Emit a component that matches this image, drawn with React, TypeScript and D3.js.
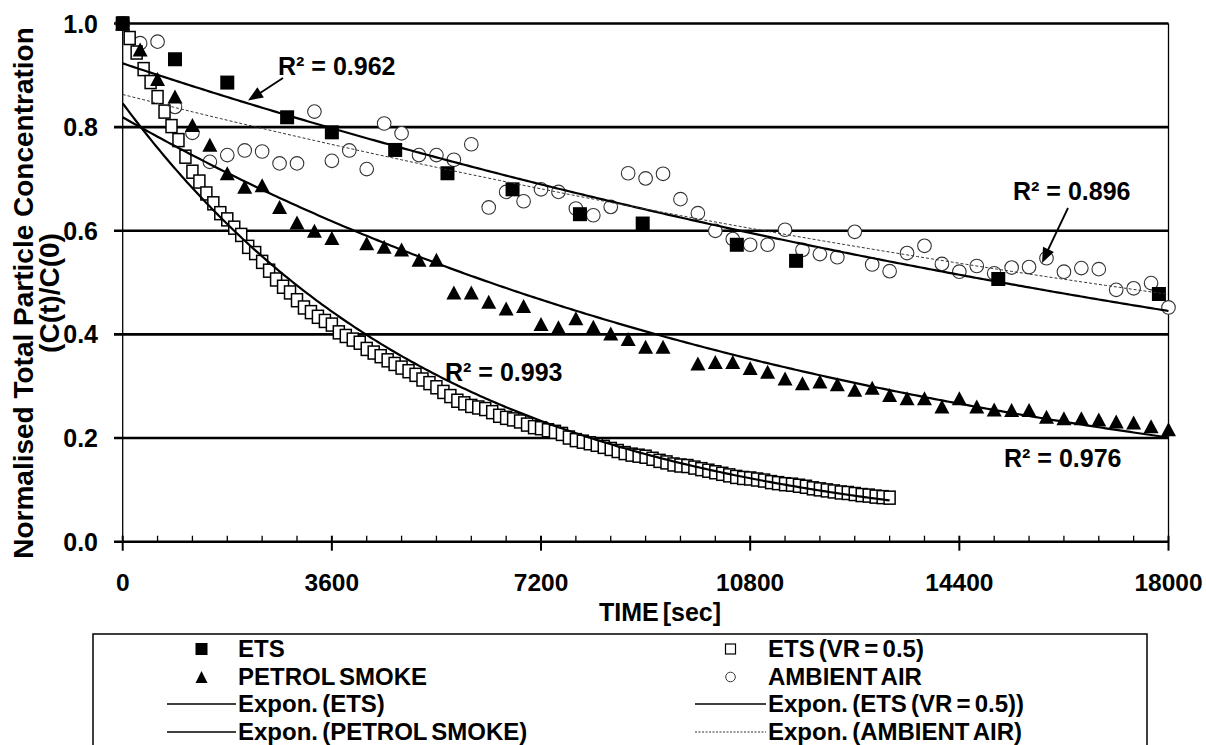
import React from 'react';
import * as d3 from 'd3';

// ---- data ----
const etsTime = [0, 900, 1800, 2830, 3600, 4690, 5590, 6710, 7870, 8950, 10570, 11590, 15070, 17835];
const etsValue = [1.0, 0.931, 0.886, 0.819, 0.79, 0.756, 0.711, 0.68, 0.632, 0.614, 0.573, 0.542, 0.507, 0.478];

// ETS (VR = 0.5) sampled every 120 s
const vrInterval = 120;
const vrValue = [
  1.0, 0.972, 0.944, 0.912, 0.887, 0.858, 0.83, 0.802, 0.775, 0.743,
  0.714, 0.695, 0.672, 0.653, 0.634, 0.622, 0.606, 0.592, 0.569, 0.557,
  0.54, 0.523, 0.506, 0.492, 0.481, 0.466, 0.452, 0.443, 0.434, 0.426,
  0.419, 0.404, 0.397, 0.39, 0.384, 0.372, 0.365, 0.358, 0.35, 0.343,
  0.336, 0.329, 0.322, 0.313, 0.306, 0.298, 0.289, 0.281, 0.272, 0.267,
  0.262, 0.259, 0.256, 0.25, 0.243, 0.239, 0.236, 0.232, 0.226, 0.221,
  0.219, 0.215, 0.212, 0.208, 0.201, 0.196, 0.193, 0.19, 0.187, 0.183,
  0.179, 0.175, 0.171, 0.168, 0.166, 0.164, 0.16, 0.156, 0.153, 0.149,
  0.147, 0.146, 0.143, 0.14, 0.137, 0.134, 0.131, 0.128, 0.125, 0.123,
  0.122, 0.12, 0.118, 0.115, 0.113, 0.111, 0.11, 0.108, 0.106, 0.103,
  0.101, 0.099, 0.097, 0.095, 0.094, 0.092, 0.09, 0.089, 0.087, 0.086,
  0.085,
];

const petrolTime = [
  0, 300, 600, 900, 1200, 1500, 1800, 2100, 2400, 2700, 3000, 3300, 3600,
  4200, 4500, 4800, 5100, 5400, 5700, 6000, 6300, 6600, 6900, 7200, 7500,
  7800, 8100, 8400, 8700, 9000, 9300, 9900, 10200, 10500, 10800, 11100,
  11400, 11700, 12000, 12300, 12600, 12900, 13200, 13500, 13800, 14100,
  14400, 14700, 15000, 15300, 15600, 15900, 16200, 16500, 16800, 17100,
  17400, 17700, 18000,
];
const petrolValue = [
  1.0, 0.95, 0.893, 0.859, 0.804, 0.766, 0.711, 0.685, 0.688, 0.646, 0.616, 0.6, 0.586,
  0.576, 0.569, 0.564, 0.544, 0.544, 0.481, 0.481, 0.463, 0.45, 0.455, 0.42, 0.414,
  0.431, 0.415, 0.402, 0.391, 0.376, 0.376, 0.344, 0.347, 0.347, 0.335, 0.328,
  0.315, 0.306, 0.309, 0.304, 0.293, 0.297, 0.283, 0.277, 0.277, 0.261,
  0.277, 0.261, 0.255, 0.254, 0.254, 0.241, 0.238, 0.238, 0.236, 0.232,
  0.23, 0.223, 0.217,
];

// ambient air sampled every 300 s
const ambientInterval = 300;
const ambientValue = [
  1.0, 0.962, 0.965, 0.839, 0.789, 0.733, 0.746, 0.755, 0.753, 0.73,
  0.73, 0.83, 0.735, 0.755, 0.719, 0.807, 0.788, 0.746, 0.746, 0.737,
  0.767, 0.645, 0.675, 0.657, 0.68, 0.675, 0.643, 0.63, 0.646, 0.711,
  0.701, 0.71, 0.661, 0.634, 0.6, 0.584, 0.573, 0.573, 0.602, 0.563,
  0.555, 0.549, 0.598, 0.535, 0.522, 0.557, 0.571, 0.536, 0.521, 0.532,
  0.518, 0.529, 0.53, 0.547, 0.521, 0.528, 0.526, 0.486, 0.489, 0.499,
  0.452,
];

// exponential trendlines y = a * exp(b * t)
const fitNames = ['ETS', 'ETS (VR = 0.5)', 'PETROL SMOKE', 'AMBIENT AIR'];
const fitA = [0.923, 0.846, 0.819, 0.863];
const fitB = [-4.05e-5, -1.79e-4, -7.8e-5, -3.29e-5];
const fitEnd = [18000, 13200, 18000, 18000];
const fitR2 = ['0.962', '0.993', '0.976', '0.896'];

const xTicks = [0, 3600, 7200, 10800, 14400, 18000];
const yTicks = [0, 0.2, 0.4, 0.6, 0.8, 1.0];

const FONT = '"Liberation Sans", Arial, Helvetica, sans-serif';

export default function App() {
  const W = 1206;
  const H = 745;
  const x = d3.scaleLinear().domain([0, 18000]).range([122.7, 1168.5]);
  const y = d3.scaleLinear().domain([0, 1]).range([541.7, 23.5]);
  const x0 = x(0);
  const x1 = x(18000);
  const y0 = y(0);

  const minorTicks = d3.range(600, 18000, 600).filter((t) => t % 3600 !== 0);

  const fitPath = (i: number) => {
    const ts = d3.range(0, fitEnd[i] + 1, fitEnd[i] / 300);
    return d3
      .line<number>()
      .x((t) => x(t))
      .y((t) => y(fitA[i] * Math.exp(fitB[i] * t)))(ts) as string;
  };

  const tri = (cx: number, cy: number, w: number, h: number) =>
    `M${cx},${cy - h / 2}L${cx + w / 2},${cy + h / 2}L${cx - w / 2},${cy + h / 2}Z`;

  const arrowHead = (fx: number, fy: number, tx: number, ty: number, len: number, half: number) => {
    const ang = Math.atan2(ty - fy, tx - fx);
    const bx = tx - len * Math.cos(ang);
    const by = ty - len * Math.sin(ang);
    const px = -Math.sin(ang) * half;
    const py = Math.cos(ang) * half;
    return `M${tx},${ty}L${bx + px},${by + py}L${bx - px},${by - py}Z`;
  };

  // legend layout: each column has a symbol sample followed by its label
  const legendTop = 634;
  const rows = [649, 677, 704, 732];
  const cols = [
    { lineA: 167, lineB: 236, text: 238 },
    { lineA: 695, lineB: 766, text: 768 },
  ];
  const mid = (c: { lineA: number; lineB: number }) => (c.lineA + c.lineB) / 2;
  const L = cols[0];
  const R = cols[1];

  return (
    <svg
      width={W}
      height={H}
      style={{ position: 'absolute', left: 0, top: 0, background: '#fff' }}
      fontFamily={FONT}
      fontWeight="bold"
    >
      <rect x={0} y={0} width={W} height={H} fill="#fff" />

      {/* horizontal gridlines and y ticks */}
      {yTicks.map((v) => (
        <line key={v} x1={114} x2={x1} y1={y(v)} y2={y(v)} stroke="#000" strokeWidth={2.6} />
      ))}
      {/* y axis and right border */}
      <line x1={x0} x2={x0} y1={y(1)} y2={y0} stroke="#000" strokeWidth={1.3} />
      <line x1={x1} x2={x1} y1={y(1)} y2={y0} stroke="#000" strokeWidth={1.3} />

      {/* x ticks */}
      {minorTicks.map((t) => (
        <line key={t} x1={x(t)} x2={x(t)} y1={y0 - 6} y2={y0} stroke="#000" strokeWidth={1.3} />
      ))}
      {xTicks.map((t) => (
        <line key={t} x1={x(t)} x2={x(t)} y1={y0 - 6} y2={y0 + 9} stroke="#000" strokeWidth={2} />
      ))}

      {/* tick labels */}
      {yTicks.map((v) => (
        <text key={v} x={98} y={y(v) + 9} textAnchor="end" fontSize={25}>
          {v.toFixed(1)}
        </text>
      ))}
      {xTicks.map((t) => (
        <text key={t} x={x(t)} y={591} textAnchor="middle" fontSize={24.5}>
          {t}
        </text>
      ))}

      {/* axis titles */}
      <text x={660} y={621} textAnchor="middle" fontSize={25} wordSpacing={-3}>
        TIME [sec]
      </text>
      <text transform="translate(33,293) rotate(-90)" textAnchor="middle" fontSize={28}>
        Normalised Total Particle Concentration
      </text>
      <text transform="translate(59,293) rotate(-90)" textAnchor="middle" fontSize={28}>
        (C(t)/C(0)
      </text>

      {/* markers */}
      <g>
        {ambientValue.map((v, i) => (
          <circle key={i} cx={x(i * ambientInterval)} cy={y(v)} r={6.8} fill="#fff" stroke="#333" strokeWidth={1.1} />
        ))}
      </g>
      <g>
        {vrValue.map((v, i) => (
          <rect key={i} x={x(i * vrInterval) - 5.5} y={y(v) - 6.5} width={11} height={13} fill="#fff" stroke="#000" strokeWidth={1.5} />
        ))}
      </g>
      <g>
        {petrolValue.map((v, i) => (
          <path key={i} d={tri(x(petrolTime[i]), y(v), 15, 14)} fill="#000" />
        ))}
      </g>
      <g>
        {etsValue.map((v, i) => (
          <rect key={i} x={x(etsTime[i]) - 7} y={y(v) - 7} width={14} height={14} fill="#000" />
        ))}
      </g>

      {/* trendlines */}
      <path d={fitPath(0)} fill="none" stroke="#000" strokeWidth={2.2} />
      <path d={fitPath(1)} fill="none" stroke="#000" strokeWidth={2.2} />
      <path d={fitPath(2)} fill="none" stroke="#000" strokeWidth={2.2} />
      <path d={fitPath(3)} fill="none" stroke="#333" strokeWidth={1} strokeDasharray="3,2" />

      {/* R² labels */}
      <g fontSize={25}>
        <text x={278} y={75}>R² = {fitR2[0]}</text>
        <line x1={283} y1={78} x2={257} y2={95} stroke="#000" strokeWidth={1.8} />
        <path d={arrowHead(283, 78, 248, 100.5, 15, 6)} fill="#000" />
        <text x={445} y={381}>R² = {fitR2[1]}</text>
        <text x={1004} y={467}>R² = {fitR2[2]}</text>
        <text x={1013} y={200}>R² = {fitR2[3]}</text>
        <line x1={1068} y1={208} x2={1047} y2={252} stroke="#000" strokeWidth={1.8} />
        <path d={arrowHead(1068, 208, 1042, 263, 15, 6)} fill="#000" />
      </g>

      {/* legend */}
      <rect x={93} y={legendTop} width={1054} height={160} fill="#fff" stroke="#000" strokeWidth={1.5} />
      <g fontSize={24} wordSpacing={-2.5}>
        <rect x={mid(L) - 6} y={rows[0] - 6} width={12} height={12} fill="#000" />
        <text x={L.text} y={rows[0] + 8}>{fitNames[0]}</text>
        <path d={tri(mid(L), rows[1], 12, 12)} fill="#000" />
        <text x={L.text} y={rows[1] + 8}>{fitNames[2]}</text>
        <line x1={L.lineA} x2={L.lineB} y1={rows[2]} y2={rows[2]} stroke="#000" strokeWidth={1.5} />
        <text x={L.text} y={rows[2] + 8}>Expon. ({fitNames[0]})</text>
        <line x1={L.lineA} x2={L.lineB} y1={rows[3]} y2={rows[3]} stroke="#000" strokeWidth={1.5} />
        <text x={L.text} y={rows[3] + 8}>Expon. ({fitNames[2]})</text>

        <rect x={mid(R) - 5} y={rows[0] - 5} width={10} height={10} fill="#fff" stroke="#000" strokeWidth={1.2} />
        <text x={R.text} y={rows[0] + 8}>{fitNames[1]}</text>
        <circle cx={mid(R)} cy={rows[1]} r={4.8} fill="#fff" stroke="#333" strokeWidth={1} />
        <text x={R.text} y={rows[1] + 8}>{fitNames[3]}</text>
        <line x1={R.lineA} x2={R.lineB} y1={rows[2]} y2={rows[2]} stroke="#000" strokeWidth={1.5} />
        <text x={R.text} y={rows[2] + 8}>Expon. ({fitNames[1]})</text>
        <line x1={R.lineA} x2={R.lineB} y1={rows[3]} y2={rows[3]} stroke="#333" strokeWidth={1} strokeDasharray="2,1.5" />
        <text x={R.text} y={rows[3] + 8}>Expon. ({fitNames[3]})</text>
      </g>
    </svg>
  );
}
